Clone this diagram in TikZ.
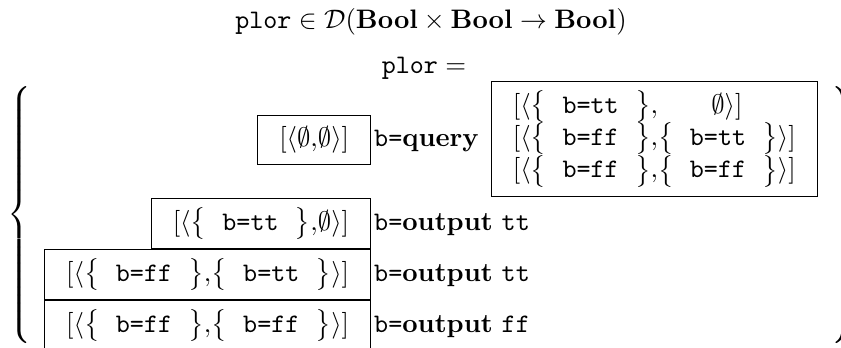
\documentclass[tikz,border=0pt]{standalone}
\usepackage{amsmath}
\newcommand{\bsetof}[1]{\big\{\mkern1.5mu\texttt{\ b=#1\ }\mkern1.5mu\big\}}
\tikzset{
	cell/.style={draw, inner xsep=8pt, inner ysep=3.33pt, minimum height=18.5pt},
	tag/.style={inner sep=1pt, anchor=base west},
}
\begin{document}
	\begin{tikzpicture}[x=0.374pt, y=-0.374pt]
		\useasboundingbox (0,0) rectangle (841,348);
		\node (sig) at (431,22) {$\texttt{plor}\in\mathcal{D}(\mathbf{Bool}\times\mathbf{Bool}\to\mathbf{Bool})$};
		\node (lhs) at (424,68) {$\texttt{plor}=$};
		\node[inner sep=0pt] (lbrace) at (21,215) {$\left\{\vrule height 52.5pt depth 47.5pt width 0pt\right.$};
		\node[inner sep=0pt] (rbrace) at (842,215) {$\left.\vrule height 52.5pt depth 47.5pt width 0pt\right\}$};
		% first row: the query
		\node[cell, anchor=east] (empt) at (371,140) {$[\langle\emptyset{,}\emptyset\rangle]$};
		\node[tag] (qry) at (empt.base east) {\texttt{b=}\textbf{query}};
		\node[cell, anchor=west] (pend) at (491,139) {%
			\begin{tabular}{@{}l@{}c@{}}
				$[\langle\bsetof{tt}{,}$ & $\emptyset\rangle]$\\
				$[\langle\bsetof{ff}{,}$ & $\bsetof{tt}\rangle]$\\
				$[\langle\bsetof{ff}{,}$ & $\bsetof{ff}\rangle]$
			\end{tabular}};
		% the outputs
		\node[cell, anchor=north east] (outtt) at (371,198) {$[\langle\bsetof{tt}{,}\emptyset\rangle]$};
		\node[cell, anchor=north east] (outfftt) at (outtt.south east) {$[\langle\bsetof{ff}{,}\bsetof{tt}\rangle]$};
		\node[cell, anchor=north east] (outffff) at (outfftt.south east) {$[\langle\bsetof{ff}{,}\bsetof{ff}\rangle]$};
		\node[tag] (tagtt) at (outtt.base east) {\texttt{b=}\textbf{output} \texttt{tt}};
		\node[tag] (tagfftt) at (outfftt.base east) {\texttt{b=}\textbf{output} \texttt{tt}};
		\node[tag] (tagffff) at (outffff.base east) {\texttt{b=}\textbf{output} \texttt{ff}};
	\end{tikzpicture}
\end{document}
